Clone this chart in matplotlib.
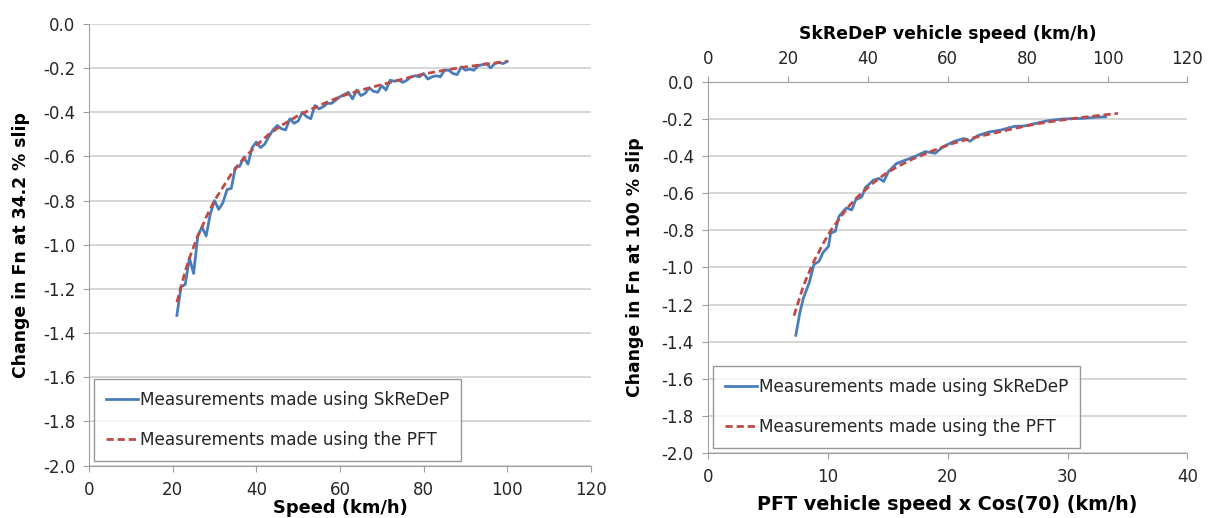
import matplotlib.pyplot as plt
import numpy as np

# left panel: SkReDeP, change in Fn at 34.2 % slip vs speed (km/h)
left_speed = list(range(21, 101))
left_skredep = [
    -1.32, -1.19, -1.18, -1.06, -1.13, -0.96, -0.92, -0.96, -0.86, -0.80,
    -0.84, -0.81, -0.75, -0.745, -0.65, -0.645, -0.605, -0.635, -0.56, -0.535,
    -0.56, -0.545, -0.51, -0.48, -0.46, -0.475, -0.48, -0.43, -0.45, -0.44,
    -0.40, -0.42, -0.43, -0.37, -0.385, -0.375, -0.36, -0.36, -0.345, -0.33,
    -0.32, -0.31, -0.34, -0.30, -0.325, -0.315, -0.29, -0.305, -0.31, -0.28,
    -0.30, -0.255, -0.26, -0.255, -0.265, -0.255, -0.24, -0.235, -0.24, -0.225,
    -0.25, -0.24, -0.235, -0.24, -0.21, -0.21, -0.225, -0.23, -0.195, -0.21,
    -0.205, -0.21, -0.19, -0.185, -0.18, -0.20, -0.18, -0.175, -0.18, -0.17,
]

# PFT curve (same values used in both panels)
pft_speed = [21, 22, 23, 24, 25, 26, 27, 28, 30, 32, 34, 36, 38, 40, 43, 46,
             50, 55, 60, 65, 70, 75, 80, 85, 90, 95, 100]
pft_fn = [-1.26, -1.19, -1.12, -1.06, -1.01, -0.96, -0.92, -0.875, -0.80,
          -0.74, -0.68, -0.63, -0.59, -0.55, -0.50, -0.46, -0.415, -0.37,
          -0.33, -0.30, -0.275, -0.25, -0.227, -0.21, -0.195, -0.182, -0.17]

# right panel: SkReDeP, change in Fn at 100 % slip vs SkReDeP speed
right_speed = [22.0, 23.0, 23.9, 25.4, 26.5, 27.8, 28.8, 30.2, 30.7, 31.9,
               32.8, 34.6, 36.0, 37.0, 38.5, 39.4, 41.4, 42.8, 44.0, 45.2,
               47.2, 50.0, 52.0, 54.4, 56.9, 58.8, 61.7, 64.1, 65.6, 67.5,
               70.4, 73.3, 76.7, 79.1, 82.0, 84.9, 88.8, 93.7, 97.5, 99.5]
right_skredep = [-1.366, -1.245, -1.165, -1.08, -0.985, -0.967, -0.92, -0.886,
                 -0.815, -0.805, -0.725, -0.68, -0.69, -0.635, -0.62, -0.57,
                 -0.53, -0.52, -0.537, -0.483, -0.44, -0.417, -0.40, -0.376,
                 -0.385, -0.35, -0.32, -0.305, -0.32, -0.29, -0.27, -0.26,
                 -0.24, -0.238, -0.224, -0.21, -0.20, -0.197, -0.19, -0.188]

y_ticks = [-2.0, -1.8, -1.6, -1.4, -1.2, -1.0, -0.8, -0.6, -0.4, -0.2, 0.0]
y_ticklabels = ["-2.0", "-1.8", "-1.6", "-1.4", "-1.2", "-1.0", "-0.8",
                "-0.6", "-0.4", "-0.2", "0.0"]

label_blue = "Measurements made using SkReDeP"
label_red = "Measurements made using the PFT"

BLUE = "#4a7ebb"
RED = "#be4b48"
GRID = "#d0d0d0"
SPINE = "#a0a0a0"
TXT = "#262626"
FS = 12
LEG_FS = 12.2

plt.rcParams["font.family"] = ["DejaVu Sans"]


def style_axes(ax):
    ax.set_ylim(-2.0, 0.0)
    ax.set_yticks(y_ticks)
    ax.set_yticklabels(y_ticklabels)
    ax.yaxis.grid(True, color=GRID, linewidth=1.2)
    ax.set_axisbelow(True)
    for side in ["top", "right"]:
        ax.spines[side].set_visible(False)
    for side in ["left", "bottom"]:
        ax.spines[side].set_color(SPINE)
    ax.tick_params(axis="both", colors=SPINE, labelcolor=TXT,
                   labelsize=FS, length=4)
    ax.tick_params(axis="x", pad=7)
    ax.tick_params(axis="y", pad=6)


def add_legend(ax, handles, labels):
    leg = ax.legend(handles, labels, loc="lower left",
                    bbox_to_anchor=(0.0, 0.0), fontsize=LEG_FS,
                    frameon=True, fancybox=False, edgecolor="#808080",
                    handlelength=1.9, handletextpad=0.1, labelspacing=1.3,
                    borderpad=0.7, borderaxespad=0.3)
    leg.get_frame().set_linewidth(1.0)
    for t in leg.get_texts():
        t.set_color(TXT)


fig = plt.figure(figsize=(12.08, 5.18), dpi=100)

# left chart
ax1 = fig.add_axes([0.0737, 0.101, 0.4155, 0.853])
l1, = ax1.plot(left_speed, left_skredep, color=BLUE, lw=2.0)
l2, = ax1.plot(pft_speed, pft_fn, color=RED, lw=2.0, dashes=(2.6, 1.4))
ax1.set_xlim(0, 120)
ax1.set_xticks(range(0, 121, 20))
style_axes(ax1)
ax1.set_xlabel("Speed (km/h)", fontsize=12.9, fontweight="bold",
               labelpad=0, color="black")
ax1.set_ylabel("Change in Fn at 34.2 % slip", fontsize=12.4,
               fontweight="bold", labelpad=9, color="black")
add_legend(ax1, [l1, l2], [label_blue, label_red])

# right chart: bottom axis PFT speed x cos(70), top axis SkReDeP speed
ax2 = fig.add_axes([0.586, 0.1255, 0.397, 0.7165])
ax2.set_xlim(0, 40)
ax2.set_xticks(range(0, 41, 10))
style_axes(ax2)
ax2.set_xlabel("PFT vehicle speed x Cos(70) (km/h)", fontsize=13.8,
               fontweight="bold", labelpad=6, color="black")
ax2.set_ylabel("Change in Fn at 100 % slip", fontsize=12.4,
               fontweight="bold", labelpad=13, color="black")

ax3 = ax2.twiny()
ax3.set_xlim(0, 120)
ax3.set_xticks(range(0, 121, 20))
for side in ["bottom", "right", "left"]:
    ax3.spines[side].set_visible(False)
ax3.spines["top"].set_color(SPINE)
ax3.tick_params(axis="x", colors=SPINE, labelcolor=TXT, labelsize=FS,
                length=4, pad=6)
ax3.set_xlabel("SkReDeP vehicle speed (km/h)", fontsize=12.4,
               fontweight="bold", labelpad=8, color="black")

pft_cos70 = [s * np.cos(np.radians(70)) for s in pft_speed]
r1, = ax3.plot(right_speed, right_skredep, color=BLUE, lw=2.0)
r2, = ax3.plot(pft_cos70, pft_fn, color=RED, lw=2.0, dashes=(2.6, 1.4),
               transform=ax2.transData)
ax3.set_xlim(0, 120)
ax3.set_ylim(-2.0, 0.0)
add_legend(ax3, [r1, r2], [label_blue, label_red])

fig.savefig("out.png", dpi=100, facecolor="white")
